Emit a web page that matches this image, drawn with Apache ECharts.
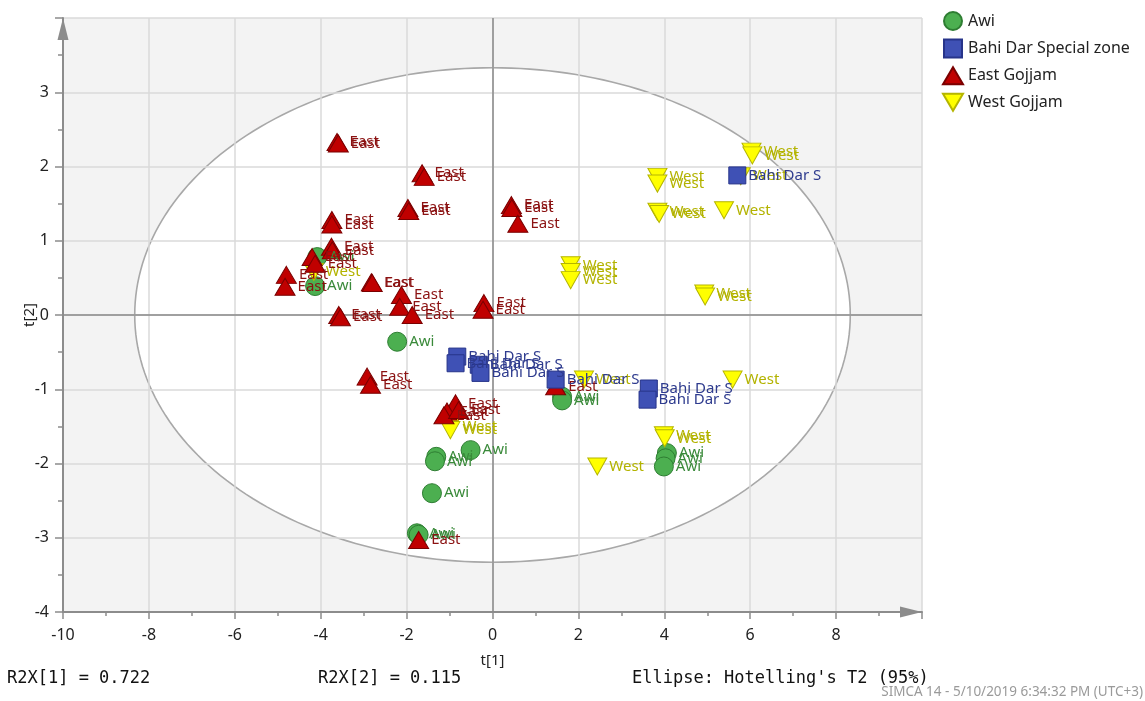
<!DOCTYPE html>
<html>
<head>
<meta charset="utf-8">
<title>Score scatter plot t[1] / t[2]</title>
<script src="https://cdn.jsdelivr.net/npm/echarts@6/dist/echarts.min.js"></script>
<style>
  html, body { margin: 0; padding: 0; background: #ffffff; }
  #chart { width: 1145px; height: 701px; }
</style>
</head>
<body>
<div id="chart"></div>
<script>
// ---- data -------------------------------------------------------------
const groupNames = ['Awi', 'Bahi Dar Special zone', 'East Gojjam', 'West Gojjam'];
const pointLabels = ['Awi', 'Bahi Dar S', 'East', 'West'];

// scores [t1, t2]
const awiScores = [
  [-4.08, 0.78], [-4.13, 0.39], [-2.22, -0.36], [-1.31, -1.91], [-1.34, -1.97],
  [-0.51, -1.82], [-1.41, -2.40], [-1.76, -2.94], [-1.72, -2.96], [1.62, -1.10],
  [1.62, -1.15], [4.06, -1.86], [4.03, -1.93], [3.99, -2.04]
];
const bahiDarScores = [
  [5.70, 1.88], [-0.82, -0.56], [-0.86, -0.65], [-0.32, -0.67], [-0.28, -0.78],
  [1.47, -0.87], [3.64, -0.99], [3.61, -1.14]
];
const eastGojjamScores = [
  [-3.62, 2.33], [-3.59, 2.31], [-1.64, 1.91], [-1.59, 1.86], [-1.97, 1.44],
  [-1.95, 1.40], [-3.74, 1.28], [-3.74, 1.22], [-3.75, 0.92], [-3.73, 0.87],
  [-4.20, 0.78], [-4.13, 0.69], [-4.80, 0.54], [-4.83, 0.38], [-2.82, 0.44],
  [-2.80, 0.43], [-2.12, 0.27], [-2.16, 0.11], [-1.87, 0.00], [-3.58, 0.00],
  [-3.54, -0.03], [-0.20, 0.16], [-0.22, 0.07], [0.44, 1.48], [0.45, 1.44],
  [0.59, 1.23], [-2.92, -0.83], [-2.84, -0.94], [-0.86, -1.19], [-1.06, -1.30],
  [-1.13, -1.35], [-0.79, -1.28], [-1.72, -3.03], [1.47, -0.96]
];
const westGojjamScores = [
  [6.03, 2.20], [6.05, 2.15], [5.78, 1.87], [3.84, 1.86], [3.84, 1.77],
  [3.84, 1.39], [3.88, 1.36], [5.39, 1.41], [1.82, 0.67], [1.82, 0.58],
  [1.82, 0.47], [4.93, 0.29], [4.95, 0.25], [2.13, -0.87], [5.59, -0.87],
  [3.99, -1.62], [4.01, -1.66], [2.44, -2.04], [-4.16, 0.58], [-0.98, -1.50],
  [-0.98, -1.55]
];

// Hotelling's T2 (95%) ellipse
const ellipseCenter = [0, 0];
const ellipseRadius = [8.33, 3.33];

// axis ranges and tick steps
const xRange = [-10, 10];
const yRange = [-4, 4];
const xStep = 2;
const yStep = 1;

const footerTexts = ['R2X[1] = 0.722', 'R2X[2] = 0.115', "Ellipse: Hotelling's T2 (95%)"];
const stampText = 'SIMCA 14 - 5/10/2019 6:34:32 PM (UTC+3)';

// ---- styling ----------------------------------------------------------
const FONT = 'Noto Sans';
const MONO = 'DejaVu Sans Mono';
const downTriangle = 'path://M0,0L20,0L10,18Z';
const axisGray = '#8c8c8c';

function pointSeries(name, data, symbol, size, fill, border, labelText, labelColor) {
  return {
    name: name,
    type: 'scatter',
    data: data,
    symbol: symbol,
    symbolSize: size,
    itemStyle: { color: fill, borderColor: border, borderWidth: 1, opacity: 1 },
    label: {
      show: true,
      position: 'right',
      distance: 2,
      formatter: labelText,
      color: labelColor,
      fontFamily: FONT,
      fontSize: 15
    },
    emphasis: { disabled: true },
    z: 2
  };
}

const chart = echarts.init(document.getElementById('chart'), null, { renderer: 'canvas' });

const option = {
  backgroundColor: '#ffffff',
  animation: false,
  textStyle: { fontFamily: FONT },
  grid: {
    left: 63, right: 223, top: 18, bottom: 89,
    show: true, backgroundColor: '#f3f3f3', borderWidth: 0, z: -2
  },
  legend: {
    orient: 'vertical',
    left: 937, top: 6,
    itemWidth: 20, itemHeight: 18, itemGap: 7.6,
    textStyle: { fontFamily: FONT, fontSize: 16, color: '#222' },
    data: [
      { name: groupNames[0], icon: 'circle' },
      { name: groupNames[1], icon: 'path://M0,0L16,0L16,16L0,16Z' },
      { name: groupNames[2], icon: 'path://M10,0L20,17L0,17Z' },
      { name: groupNames[3], icon: 'path://M0,0L20,0L10,17Z' }
    ],
    selectedMode: false
  },
  xAxis: {
    type: 'value',
    min: xRange[0], max: xRange[1], interval: xStep,
    name: 't[1]', nameLocation: 'middle', nameGap: 41, nameMoveOverlap: false,
    nameTextStyle: { fontFamily: FONT, fontSize: 15, color: '#222' },
    axisLine: {
      show: true, onZero: false,
      lineStyle: { color: axisGray, width: 2 },
      symbol: ['none', 'triangle'], symbolSize: [11, 22], symbolOffset: [0, -11]
    },
    axisTick: { show: true, length: 7, lineStyle: { color: axisGray, width: 1.5 } },
    minorTick: { show: true, splitNumber: 2, length: 4, lineStyle: { color: axisGray, width: 1.5 } },
    axisLabel: {
      margin: 15, fontFamily: FONT, fontSize: 16, color: '#222',
      showMinLabel: true, showMaxLabel: true,
      formatter: v => (v === xRange[1] ? '' : String(v))
    },
    splitLine: { show: true, lineStyle: { color: '#dadada', width: 1.5 } },
    z: 0
  },
  yAxis: {
    type: 'value',
    min: yRange[0], max: yRange[1], interval: yStep,
    name: 't[2]', nameLocation: 'middle', nameGap: 26, nameMoveOverlap: false,
    nameTextStyle: { fontFamily: FONT, fontSize: 15, color: '#222' },
    axisLine: {
      show: true, onZero: false,
      lineStyle: { color: axisGray, width: 2 },
      symbol: ['none', 'triangle'], symbolSize: [11, 22], symbolOffset: [0, -11]
    },
    axisTick: { show: true, length: 8, lineStyle: { color: axisGray, width: 1.5 } },
    minorTick: { show: true, splitNumber: 2, length: 5, lineStyle: { color: axisGray, width: 1.5 } },
    axisLabel: {
      margin: 14, fontFamily: FONT, fontSize: 16, color: '#222',
      showMinLabel: true, showMaxLabel: true,
      formatter: v => (v === yRange[1] ? '' : String(v))
    },
    splitLine: { show: true, lineStyle: { color: '#dadada', width: 1.5 } },
    z: 0
  },
  series: [
    {
      // confidence ellipse, filled white over the grey plot background
      name: 'ellipse',
      type: 'custom',
      data: [ellipseCenter],
      silent: true,
      z: -1,
      clip: true,
      renderItem: function (params, api) {
        const pts = [];
        const n = 240;
        for (let i = 0; i <= n; i++) {
          const a = (i / n) * Math.PI * 2;
          pts.push(api.coord([
            ellipseCenter[0] + ellipseRadius[0] * Math.cos(a),
            ellipseCenter[1] + ellipseRadius[1] * Math.sin(a)
          ]));
        }
        return {
          type: 'polygon',
          shape: { points: pts },
          style: { fill: '#ffffff', stroke: '#a8a8a8', lineWidth: 1.6 }
        };
      },
      markLine: {
        silent: true,
        symbol: ['none', 'none'],
        label: { show: false },
        lineStyle: { color: '#8a8a8a', width: 1.5, type: 'solid' },
        emphasis: { disabled: true },
        z: 1,
        data: [{ xAxis: 0 }, { yAxis: 0 }]
      }
    },
    pointSeries(groupNames[0], awiScores, 'circle', 19, '#4caf50', '#2e7d32', pointLabels[0], '#3a8a3a'),
    pointSeries(groupNames[3], westGojjamScores, downTriangle, [19, 17], '#ffff00', '#b5b500', pointLabels[3], '#b3b300'),
    pointSeries(groupNames[2], eastGojjamScores, 'triangle', [20, 17], '#c00000', '#7a0000', pointLabels[2], '#8b1212'),
    pointSeries(groupNames[1], bahiDarScores, 'rect', 17, '#3f51b5', '#27348a', pointLabels[1], '#2e3b8e')
  ],
  graphic: [
    { type: 'text', left: 7, top: 670, style: { text: footerTexts[0], font: '17px "' + MONO + '"', fill: '#111' } },
    { type: 'text', left: 318, top: 670, style: { text: footerTexts[1], font: '17px "' + MONO + '"', fill: '#111' } },
    { type: 'text', left: 632, top: 670, style: { text: footerTexts[2], font: '17px "' + MONO + '"', fill: '#111' } },
    { type: 'text', right: 2, top: 685, style: { text: stampText, font: '13.5px "' + FONT + '"', fill: '#9a9a9a' } }
  ]
};

chart.setOption(option);
</script>
</body>
</html>
